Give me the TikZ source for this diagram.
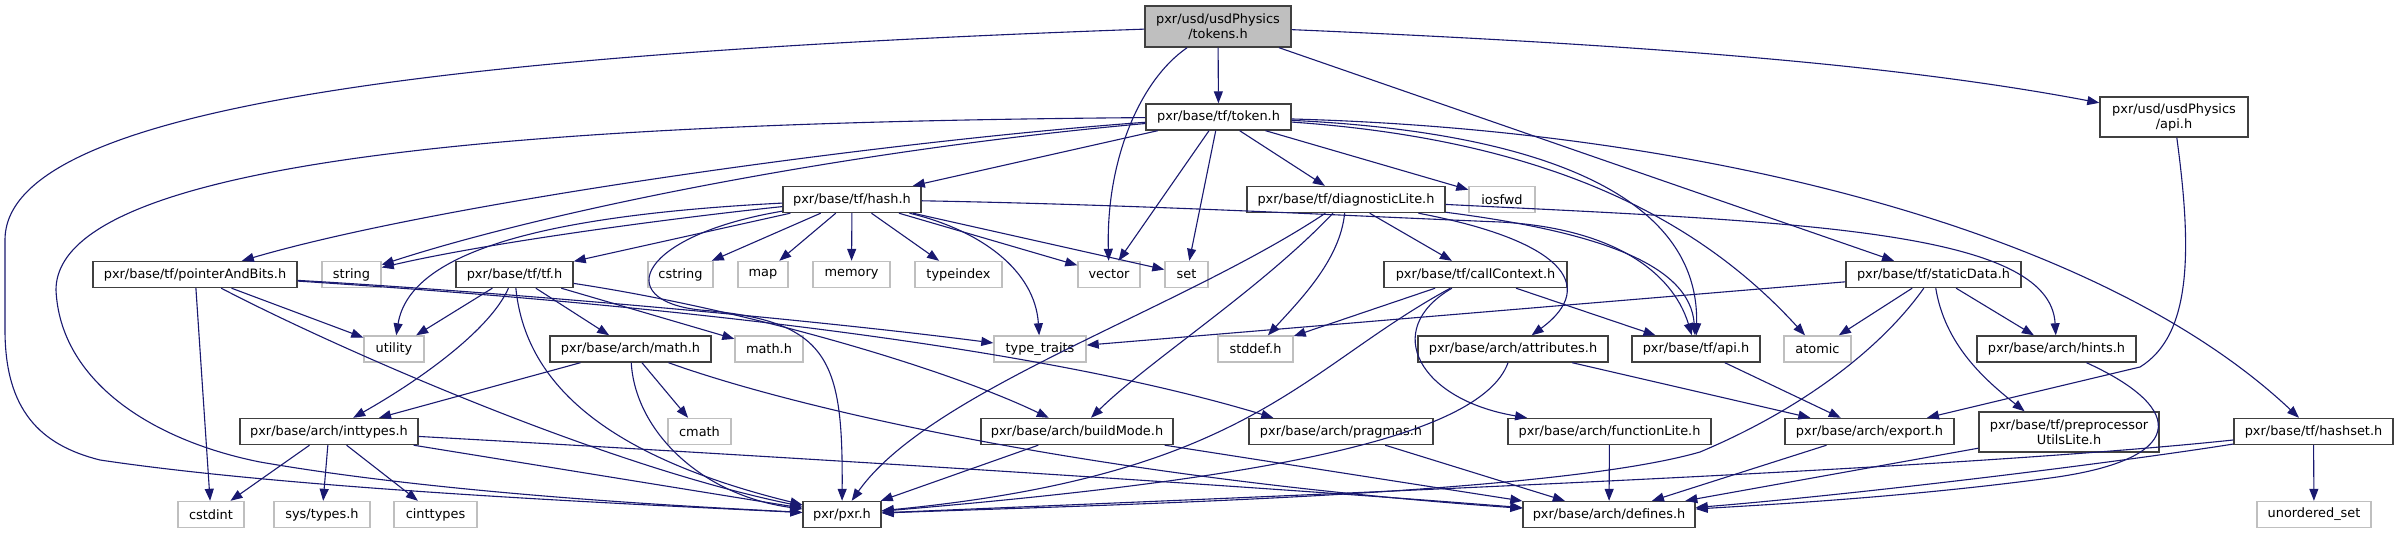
\documentclass[tikz,border=0pt]{standalone}
\usepackage{fontspec}
\setmainfont{DejaVu Sans}
\usetikzlibrary{arrows.meta}
\definecolor{edgec}{HTML}{191970}
\definecolor{nodeb}{HTML}{404040}
\definecolor{extb}{HTML}{BFBFBF}
\definecolor{rootf}{HTML}{BFBFBF}
\newcommand\nf{\fontsize{12.9pt}{15pt}\selectfont}
\begin{document}
\begin{tikzpicture}[x={(1pt,0)}, y={(0,-1pt)},
  nb/.style={draw=nodeb, line width=1.4pt, fill=white, inner sep=0pt, font=\nf, minimum height=26pt},
  ne/.style={draw=extb, line width=1.4pt, fill=white, inner sep=0pt, font=\nf, minimum height=26pt},
  nr/.style={draw=nodeb, line width=1.4pt, fill=rootf, inner sep=0pt, font=\nf, align=center},
  e/.style={draw=edgec, line width=1.1pt, -{Triangle[length=12pt,width=9pt]}}]
\fill[white] (0,0) rectangle (2399,533);
\useasboundingbox (0,0) rectangle (2399,533);
% rank 0/1
\node[nr, minimum width=146pt, minimum height=41pt] (tokens) at (1218,26.5) {pxr/usd/usdPhysics\\/tokens.h};
\node[nb, minimum width=145pt] (token) at (1218.5,117) {pxr/base/tf/token.h};
\node[nb, minimum width=148pt, minimum height=40pt, align=center] (uapi) at (2174,117) {pxr/usd/usdPhysics\\/api.h};
% rank 2
\node[nb, minimum width=138pt] (hash) at (852,199.5) {pxr/base/tf/hash.h};
\node[nb, minimum width=198pt] (diag) at (1346,199.5) {pxr/base/tf/diagnosticLite.h};
\node[ne, minimum width=66pt] (iosfwd) at (1502,199.5) {iosfwd};
% rank 3
\node[nb, minimum width=204pt] (pab) at (195,274.5) {pxr/base/tf/pointerAndBits.h};
\node[ne, minimum width=59pt] (string) at (351.5,274.5) {string};
\node[nb, minimum width=117pt] (tf) at (514.5,274.5) {pxr/base/tf/tf.h};
\node[ne, minimum width=65pt] (cstring) at (680.5,274.5) {cstring};
\node[ne, minimum width=50pt] (map) at (763,274.5) {map};
\node[ne, minimum width=77pt] (memory) at (851.5,274.5) {memory};
\node[ne, minimum width=87pt] (typeindex) at (958.5,274.5) {typeindex};
\node[ne, minimum width=62pt] (vector) at (1109,274.5) {vector};
\node[ne, minimum width=43pt] (set) at (1186.5,274.5) {set};
\node[nb, minimum width=183pt] (callctx) at (1475.5,274.5) {pxr/base/tf/callContext.h};
\node[nb, minimum width=175pt] (static) at (1933.5,274.5) {pxr/base/tf/staticData.h};
% rank 4
\node[ne, minimum width=60pt] (utility) at (394,349) {utility};
\node[nb, minimum width=161pt] (amath) at (630.5,349) {pxr/base/arch/math.h};
\node[ne, minimum width=68pt] (mathh) at (769,349) {math.h};
\node[ne, minimum width=92pt] (typetraits) at (1040,349) {type\_traits};
\node[ne, minimum width=75pt] (stddef) at (1255.5,349) {stddef.h};
\node[nb, minimum width=190pt] (attr) at (1513,349) {pxr/base/arch/attributes.h};
\node[nb, minimum width=128pt] (tfapi) at (1696,349) {pxr/base/tf/api.h};
\node[ne, minimum width=67pt] (atomic) at (1817.5,349) {atomic};
\node[nb, minimum width=159pt] (hints) at (2056.5,349) {pxr/base/arch/hints.h};
% rank 5
\node[nb, minimum width=178pt] (inttypes) at (329,431.5) {pxr/base/arch/inttypes.h};
\node[ne, minimum width=63pt] (cmath) at (699.5,431.5) {cmath};
\node[nb, minimum width=192pt] (buildmode) at (1077,431.5) {pxr/base/arch/buildMode.h};
\node[nb, minimum width=184pt] (pragmas) at (1341,431.5) {pxr/base/arch/pragmas.h};
\node[nb, minimum width=203pt] (funclite) at (1609.5,431.5) {pxr/base/arch/functionLite.h};
\node[nb, minimum width=169pt] (export) at (1869.5,431.5) {pxr/base/arch/export.h};
\node[nb, minimum width=180pt, minimum height=40pt, align=center] (ppul) at (2069,432) {pxr/base/tf/preprocessor\\UtilsLite.h};
\node[nb, minimum width=159pt] (hashset) at (2313.5,431.5) {pxr/base/tf/hashset.h};
% rank 6
\node[ne, minimum width=66pt] (cstdint) at (211,514.5) {cstdint};
\node[ne, minimum width=96pt] (systypes) at (322,514.5) {sys/types.h};
\node[ne, minimum width=83pt] (cinttypes) at (435.5,514.5) {cinttypes};
\node[nb, minimum width=78pt] (pxr) at (842,514.5) {pxr/pxr.h};
\node[nb, minimum width=172pt] (defines) at (1609,514.5) {pxr/base/arch/defines.h};
\node[ne, minimum width=114pt] (unordered) at (2314,514.5) {unordered\_set};
% edges: tokens.h
\draw[e] (tokens) .. controls (420,55) and (5,110) .. (5,240) -- (5,330) .. controls (5,410) and (40,445) .. (100,460) .. controls (300,490) and (650,505) .. (pxr);
\draw[e] (tokens) .. controls (1140,80) and (1106,160) .. (vector);
\draw[e] (tokens) -- (token);
\draw[e] (tokens) -- (static);
\draw[e] (tokens) .. controls (1650,45) and (1900,65) .. (uapi);
\draw[e] (uapi) .. controls (2192,250) and (2192,335) .. (2140,367) -- (export);
% token.h
\draw[e] (token) .. controls (600,122) and (56,150) .. (56,290) .. controls (60,380) and (150,440) .. (260,462) .. controls (450,495) and (700,507) .. (pxr);
\draw[e] (token) .. controls (900,140) and (450,200) .. (pab);
\draw[e] (token) .. controls (850,150) and (550,210) .. (string);
\draw[e] (token) -- (hash);
\draw[e] (token) -- (vector);
\draw[e] (token) -- (set);
\draw[e] (token) -- (diag);
\draw[e] (token) -- (iosfwd);
\draw[e] (token) .. controls (1500,130) and (1700,180) .. (tfapi);
\draw[e] (token) .. controls (1550,140) and (1700,220) .. (atomic);
\draw[e] (token) .. controls (1700,130) and (2100,230) .. (hashset);
% hash.h
\draw[e] (hash) .. controls (700,215) and (500,240) .. (string);
\draw[e] (hash) -- (tf);
\draw[e] (hash) .. controls (550,215) and (410,250) .. (utility);
\draw[e] (hash) .. controls (640,235) and (610,300) .. (700,310) .. controls (830,320) and (843,360) .. (pxr);
\draw[e] (hash) -- (cstring);
\draw[e] (hash) -- (map);
\draw[e] (hash) -- (memory);
\draw[e] (hash) -- (typeindex);
\draw[e] (hash) -- (vector);
\draw[e] (hash) -- (set);
\draw[e] (hash) .. controls (980,230) and (1035,270) .. (typetraits);
\draw[e] (hash) .. controls (1150,205) and (1350,216) .. (1500,222) .. controls (1610,228) and (1672,270) .. (tfapi);
% diagnosticLite.h
\draw[e] (diag) .. controls (1180,310) and (930,390) .. (pxr);
\draw[e] (diag) .. controls (1260,290) and (1150,360) .. (buildmode);
\draw[e] (diag) .. controls (1340,260) and (1300,300) .. (stddef);
\draw[e] (diag) -- (callctx);
\draw[e] (diag) .. controls (1560,240) and (1600,285) .. (attr);
\draw[e] (diag) .. controls (1600,232) and (1690,265) .. (tfapi);
\draw[e] (diag) .. controls (1800,222) and (2050,230) .. (hints);
% callContext.h
\draw[e] (callctx) -- (stddef);
\draw[e] (callctx) .. controls (1300,370) and (1250,475) .. (pxr);
\draw[e] (callctx) .. controls (1380,330) and (1420,400) .. (funclite);
\draw[e] (callctx) -- (tfapi);
% staticData.h
\draw[e] (static) -- (typetraits);
\draw[e] (static) -- (atomic);
\draw[e] (static) .. controls (1880,350) and (1800,410) .. (1700,452) .. controls (1550,495) and (1100,505) .. (pxr);
\draw[e] (static) .. controls (1945,345) and (1985,380) .. (ppul.155);
\draw[e] (static) -- (hints);
% hints, export, preprocessor, hashset, functionLite
\draw[e] (hints) .. controls (2190,410) and (2185,460) .. (2050,478) .. controls (1900,498) and (1760,505) .. (defines);
\draw[e] (export) -- (defines);
\draw[e] (ppul) -- (defines);
\draw[e] (hashset) .. controls (2100,465) and (1850,495) .. (defines);
\draw[e] (hashset) .. controls (1950,470) and (1300,495) .. (pxr);
\draw[e] (hashset) -- (unordered);
\draw[e] (funclite) -- (defines);
% api, attributes
\draw[e] (tfapi) -- (export);
\draw[e] (attr) -- (export);
\draw[e] (attr) .. controls (1480,440) and (1250,480) .. (pxr);
% pragmas, buildMode
\draw[e] (pragmas) -- (defines);
\draw[e] (buildmode) -- (pxr);
\draw[e] (buildmode) -- (defines);
% arch/math.h
\draw[e] (amath) -- (inttypes);
\draw[e] (amath) .. controls (635,430) and (700,495) .. (pxr);
\draw[e] (amath) -- (cmath);
\draw[e] (amath) .. controls (800,410) and (1100,478) .. (defines);
% inttypes.h
\draw[e] (inttypes) -- (cstdint);
\draw[e] (inttypes) -- (systypes);
\draw[e] (inttypes) -- (cinttypes);
\draw[e] (inttypes) -- (pxr);
\draw[e] (inttypes) .. controls (700,452) and (1200,482) .. (defines);
% tf.h
\draw[e] (tf) -- (utility);
\draw[e] (tf) .. controls (490,330) and (420,380) .. (inttypes);
\draw[e] (tf) .. controls (525,380) and (600,455) .. (pxr);
\draw[e] (tf) -- (amath);
\draw[e] (tf) -- (mathh);
\draw[e] (tf) .. controls (750,310) and (950,370) .. (buildmode);
% pointerAndBits.h
\draw[e] (pab) -- (cstdint);
\draw[e] (pab) -- (utility);
\draw[e] (pab) .. controls (330,345) and (600,465) .. (pxr);
\draw[e] (pab) .. controls (500,292) and (800,318) .. (typetraits);
\draw[e] (pab) .. controls (560,298) and (1000,335) .. ([xshift=25pt]pragmas.north west);
\end{tikzpicture}
\end{document}
